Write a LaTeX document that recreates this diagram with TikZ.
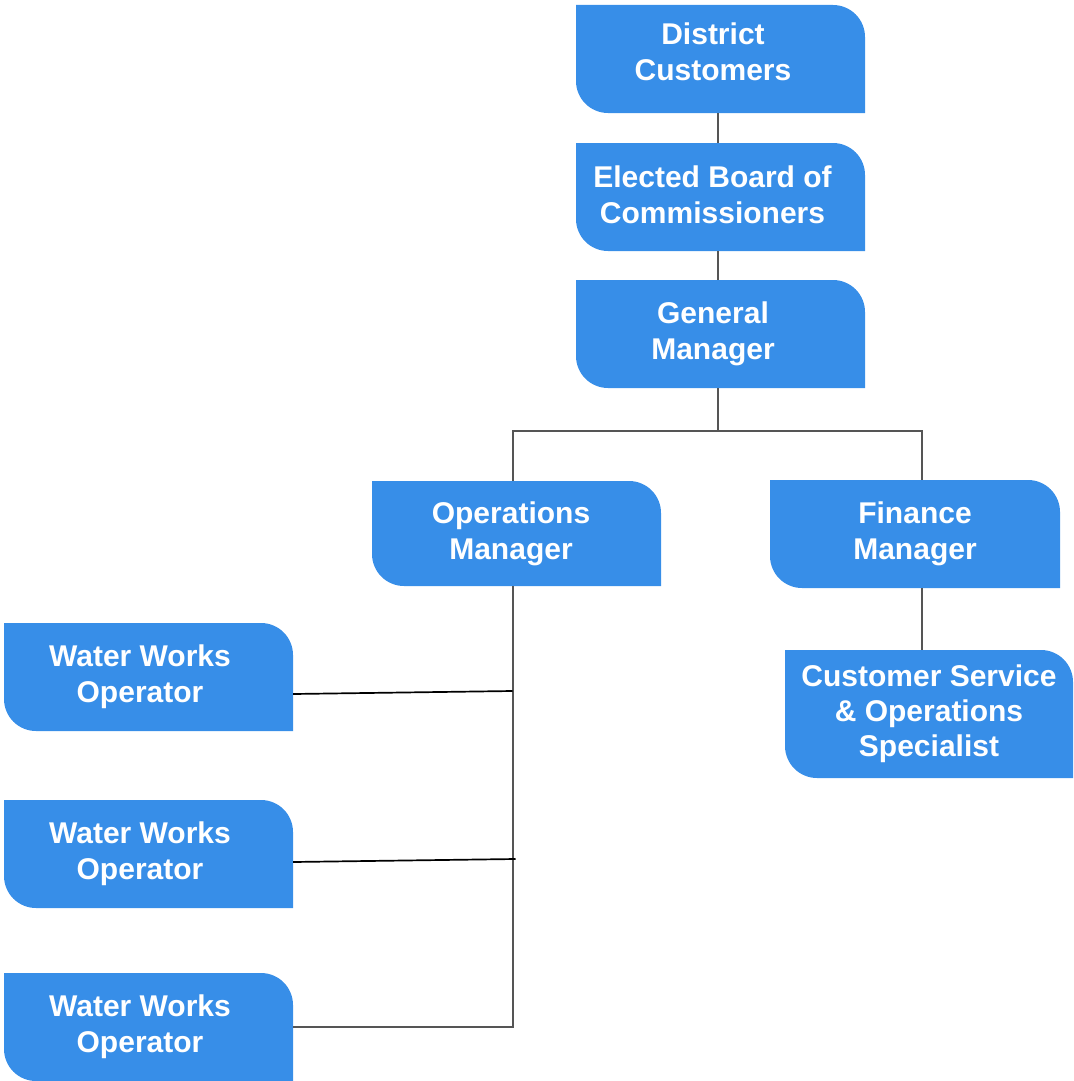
\documentclass[tikz,border=0pt]{standalone}
\usepackage{fontspec}
\setmainfont{Liberation Sans}
\definecolor{boxblue}{RGB}{55,142,232}
\definecolor{lineg}{RGB}{85,85,85}
\newcommand\padr[1]{\rule{#1}{0pt}}
\begin{document}
\begin{tikzpicture}[x=1pt,y=-1pt,
  orgbox/.style={rectangle, inner sep=0pt, text=white, align=center,
    font=\fontsize{30pt}{36pt}\selectfont\bfseries,
    minimum width=289pt, minimum height=108pt,
    path picture={\fill[boxblue]
      (path picture bounding box.north west) --
      ([xshift=-32pt]path picture bounding box.north east)
        arc[start angle=90,end angle=0,radius=32pt] --
      (path picture bounding box.south east) --
      ([xshift=32pt]path picture bounding box.south west)
        arc[start angle=270,end angle=180,radius=32pt] -- cycle;}},
  conn/.style={draw=lineg, line width=2pt},
  connb/.style={draw=black, line width=1.7pt}]
\useasboundingbox (0,0) rectangle (1073,1081);
\node[orgbox] (dc) at (720.5,59) {District\padr{15pt}\\Customers\padr{15pt}\rule[-14pt]{0pt}{0pt}};
\node[orgbox] (eb) at (720.5,197) {Elected Board of\padr{16pt}\\Commissioners\padr{16pt}\rule[-4pt]{0pt}{0pt}};
\node[orgbox] (gm) at (720.5,334) {General\padr{15pt}\\Manager\padr{15pt}};
\node[orgbox, minimum height=105pt] (om) at (516.5,533.5) {Operations\padr{11pt}\\Manager\padr{11pt}};
\node[orgbox, minimum width=290pt] (fm) at (915,534) {Finance\\Manager};
\node[orgbox, minimum width=288pt, minimum height=128pt, font=\fontsize{30pt}{35pt}\selectfont\bfseries] (cs) at (929,714) {Customer Service\\\& Operations\\Specialist};
\node[orgbox] (w1) at (148.5,677) {Water Works\padr{17pt}\\Operator\padr{17pt}};
\node[orgbox] (w2) at (148.5,854) {Water Works\padr{17pt}\\Operator\padr{17pt}};
\node[orgbox] (w3) at (148.5,1027) {Water Works\padr{17pt}\\Operator\padr{17pt}};
\coordinate (bus) at (0,431);
\path[conn] ([xshift=-3pt]dc.south) -- ([xshift=-3pt]eb.north);
\path[conn] ([xshift=-3pt]eb.south) -- ([xshift=-3pt]gm.north);
\path[conn] ([xshift=-3pt]gm.south) -- ([xshift=-3pt]gm.south|-bus);
\path[conn] ([xshift=-4pt]om.north) -- ([xshift=-4pt]om.north|-bus) -| ([xshift=7pt]fm.north);
\path[conn] ([xshift=7pt]fm.south) -- ([xshift=7pt]fm.south|-cs.north);
\path[conn] ([xshift=-4pt]om.south) |- (w3.east);
\path[connb] ([yshift=-17pt]w1.east) -- ([xshift=-4pt,yshift=-14pt]om.south|-w1.east);
\path[connb] ([yshift=-8pt]w2.east) -- ([xshift=-1pt,yshift=-5pt]om.south|-w2.east);
\end{tikzpicture}
\end{document}
